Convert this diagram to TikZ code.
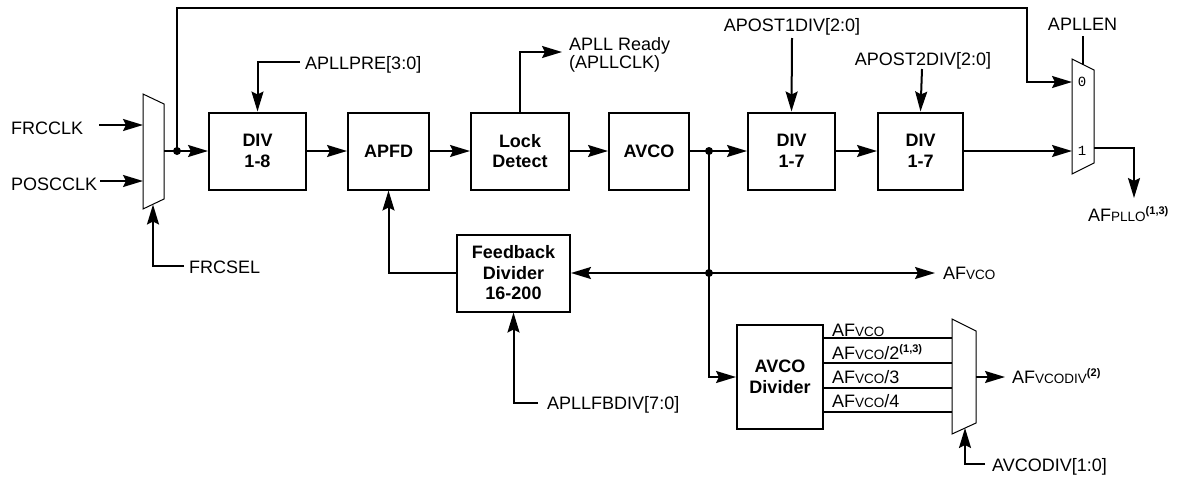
\documentclass[tikz,border=0pt]{standalone}
\usepackage{fontspec}
\setmainfont{Liberation Sans}
\newfontfamily\muxfont{Liberation Mono}
\usetikzlibrary{arrows.meta}
\newcommand\sm[1]{{\fontsize{13.5}{14}\selectfont #1}}
\newcommand\supx[1]{\raisebox{7pt}{\bfseries\fontsize{11}{11}\selectfont #1}}
\begin{document}
\begin{tikzpicture}[x=1pt,y=-1pt,
  wire/.style={line width=2pt},
  arr/.style={line width=2pt,-{Stealth[length=20pt,width=12pt,inset=3pt]}},
  blk/.style={draw,line width=2pt,align=center,inner sep=0pt,font=\bfseries\fontsize{18}{20.5}\selectfont},
  lbl/.style={inner sep=0pt,font=\fontsize{18}{20}\selectfont},
  mux/.style={draw,line width=1pt,fill=white},
  dot/.style={fill,circle,inner sep=0pt,minimum size=8pt},
  muxnum/.style={inner sep=0pt,font=\muxfont\fontsize{14}{14}\selectfont}]
\useasboundingbox (0,0) rectangle (1183,477);

% blocks
\node[blk,minimum width=97pt,minimum height=77pt] (div18) at (257.5,151) {DIV\\1-8};
\node[blk,minimum width=81pt,minimum height=77pt] (apfd) at (388.5,151) {APFD};
\node[blk,minimum width=98pt,minimum height=77pt] (lock) at (520,151) {Lock\\Detect};
\node[blk,minimum width=80pt,minimum height=77pt] (avco) at (649,151) {AVCO};
\node[blk,minimum width=87pt,minimum height=77pt] (div17a) at (791.5,151) {DIV\\1-7};
\node[blk,minimum width=85pt,minimum height=77pt] (div17b) at (920.5,151) {DIV\\1-7};
\node[blk,minimum width=113pt,minimum height=77pt] (fb) at (513.5,273) {Feedback\\Divider\\16-200};
\node[blk,minimum width=86pt,minimum height=104pt] (avdiv) at (780,377) {AVCO\\Divider};

% muxes
\draw[mux] (143,94) -- (164,104) -- (164,199) -- (143,209) -- cycle;
\draw[mux] (1072,59) -- (1094,70) -- (1094,163) -- (1072,174) -- cycle;
\draw[mux] (952,319) -- (976,331) -- (976,423) -- (952,434) -- cycle;
\node[muxnum] (m2zero) at (1082,82) {0};
\node[muxnum] (m2one) at (1082,151) {1};

% mux ports
\coordinate (m1in0) at (143,125);
\coordinate (m1in1) at (143,181);
\coordinate (m1out) at (164,151);
\coordinate (m1sel) at (153,204.5);
\coordinate (m2in0) at (1072,82);
\coordinate (m2in1) at (1072,151);
\coordinate (m2out) at (1094,148);
\coordinate (m2sel) at (1083,64.5);
\coordinate (m3out) at (976,377);
\coordinate (m3sel) at (965,428);
\coordinate (m3a) at (952,338);
\coordinate (m3b) at (952,363);
\coordinate (m3c) at (952,388);
\coordinate (m3d) at (952,412);

% labels
\node[lbl,anchor=base west] (frcclk) at (11,134) {FRCCLK};
\node[lbl,anchor=base west] (poscclk) at (11,190) {POSCCLK};
\node[lbl,anchor=base west] (frcsel) at (189,273) {FRCSEL};
\node[lbl,anchor=base west] (apllpre) at (305,69) {APLLPRE[3:0]};
\node[lbl,anchor=base west] (rdy1) at (569,50) {APLL Ready};
\node[lbl,anchor=base west] (rdy2) at (569,68.5) {(APLLCLK)};
\node[lbl,anchor=base] (apost1) at (792,31) {APOST1DIV[2:0]};
\node[lbl,anchor=base] (apost2) at (923,65.5) {APOST2DIV[2:0]};
\node[lbl,anchor=base] (apllen) at (1082.5,30) {APLLEN};
\node[lbl,anchor=base west] (afpllo) at (1088,221.5) {AF\sm{PLLO}\supx{(1,3)}};
\node[lbl,anchor=base west] (afvco) at (943,279) {AF\sm{VCO}};
\node[lbl,anchor=base west] (fbdiv) at (547,409) {APLLFBDIV[7:0]};
\node[lbl,anchor=base west] (o1) at (832,336) {AF\sm{VCO}};
\node[lbl,anchor=base west] (o2) at (832,359) {AF\sm{VCO}/2\supx{(1,3)}};
\node[lbl,anchor=base west] (o3) at (832,383) {AF\sm{VCO}/3};
\node[lbl,anchor=base west] (o4) at (832,407) {AF\sm{VCO}/4};
\node[lbl,anchor=base west] (afvcodiv) at (1012,383) {AF\sm{VCODIV}\supx{(2)}};
\node[lbl,anchor=base west] (avcodivsel) at (992,471.5) {AVCODIV[1:0]};

% junctions
\node[dot] (dot1) at (177,151) {};
\node[dot] (dot2) at (709,151) {};
\node[dot] (dot3) at (709,273) {};

% free-end coordinates
\coordinate (frcS) at (99,125);
\coordinate (posS) at (100,181);
\coordinate (selS) at (184,266);
\coordinate (preS) at (300,62);
\coordinate (rdyE) at (562,52);
\coordinate (ap1S) at (792,38);
\coordinate (ap2S) at (922,69);
\coordinate (enS) at (1083,36);
\coordinate (topR) at (1027,8);
\coordinate (plloE) at (1134,198);
\coordinate (vcoE) at (935,273);
\coordinate (fbdS) at (538,403);
\coordinate (vdivE) at (1005,377);
\coordinate (avsS) at (985,464);

% connectors
\draw[arr] (frcS) -- (m1in0);
\draw[arr] (posS) -- (m1in1);
\draw[arr] (selS) -| (m1sel);
\draw[arr] (m1out) -- (div18.west);
\draw[arr] (dot1.center) |- (topR) |- (m2in0);
\draw[arr] (preS) -| (div18.north);
\draw[arr] (div18.east) -- (apfd.west);
\draw[arr] (apfd.east) -- (lock.west);
\draw[arr] (lock.north) |- (rdyE);
\draw[arr] (lock.east) -- (avco.west);
\draw[arr] (avco.east) -- (div17a.west);
\draw[arr] (ap1S) -- (div17a.north);
\draw[arr] (div17a.east) -- (div17b.west);
\draw[arr] (ap2S) -- (div17b.north);
\draw[arr] (div17b.east) -- (m2in1);
\draw[wire] (enS) -- (m2sel);
\draw[arr] (m2out) -| (plloE);
\draw[wire] (dot2.center) -- (dot3.center);
\draw[arr] (dot3.center) -- (fb.east);
\draw[arr] (dot3.center) -- (vcoE);
\draw[arr] (fb.west) -| (apfd.south);
\draw[arr] (fbdS) -| (fb.south);
\draw[arr] (dot3.center) |- (avdiv.west);
\draw[wire] (avdiv.east |- m3a) -- (m3a);
\draw[wire] (avdiv.east |- m3b) -- (m3b);
\draw[wire] (avdiv.east |- m3c) -- (m3c);
\draw[wire] (avdiv.east |- m3d) -- (m3d);
\draw[arr] (m3out) -- (vdivE);
\draw[arr] (avsS) -| (m3sel);
\end{tikzpicture}
\end{document}
